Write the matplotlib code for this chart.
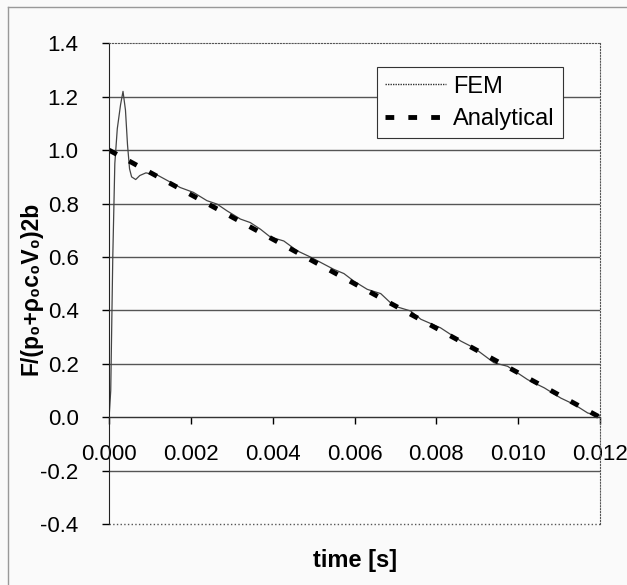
import numpy as np
import matplotlib.pyplot as plt
from matplotlib.lines import Line2D

plt.rcParams['font.family'] = ['Liberation Sans', 'DejaVu Sans']

# FEM response
fem_t = [0.0, 0.00004, 0.00009, 0.00014, 0.0002, 0.00028, 0.00034, 0.0004, 0.00045,
         0.0005, 0.00055, 0.00065, 0.00075, 0.0009, 0.00105, 0.0012, 0.0015, 0.00174,
         0.00206, 0.00239, 0.00264, 0.00288, 0.00321, 0.00345, 0.0037, 0.00394,
         0.00427, 0.0046, 0.00492, 0.00549, 0.00574, 0.00598, 0.00631, 0.00664,
         0.00696, 0.00737, 0.00762, 0.0081, 0.0086, 0.00892, 0.00941, 0.00974,
         0.01023, 0.01064, 0.01104, 0.01137, 0.0117, 0.01194, 0.012]
fem_f = [0.0, 0.1, 0.6, 0.95, 1.08, 1.17, 1.22, 1.15, 1.02,
         0.93, 0.9, 0.89, 0.905, 0.915, 0.91, 0.905, 0.88, 0.86,
         0.842, 0.811, 0.798, 0.773, 0.742, 0.729, 0.704, 0.675,
         0.66, 0.623, 0.60, 0.554, 0.538, 0.51, 0.479, 0.463,
         0.417, 0.398, 0.367, 0.335, 0.285, 0.26, 0.204, 0.191,
         0.141, 0.11, 0.072, 0.048, 0.016, 0.0075, 0.005]

# analytical solution (straight line between end points)
ana_t = [0.0, 0.012]
ana_f = [1.0, 0.0]

x_ticks = [0.0, 0.002, 0.004, 0.006, 0.008, 0.010, 0.012]
y_ticks = [-0.4, -0.2, 0.0, 0.2, 0.4, 0.6, 0.8, 1.0, 1.2, 1.4]

fig = plt.figure(figsize=(6.27, 5.85), dpi=100)
fig.patch.set_facecolor('#fafafa')
ax = fig.add_axes([0.174, 0.104, 0.783, 0.822])
ax.set_facecolor('#fcfcfc')

ax.plot(fem_t, fem_f, color='#444444', linewidth=0.9)
ax.plot(ana_t, ana_f, color='black', linewidth=3.5, linestyle=(0, (1.8, 2.9)))

ax.set_xlim(0.0, 0.012)
ax.set_ylim(-0.4, 1.4)
ax.set_xticks(x_ticks)
ax.set_yticks(y_ticks)
ax.set_xticklabels([f'{v:.3f}' for v in x_ticks])
ax.set_yticklabels([f'{v:.1f}' for v in y_ticks])
ax.tick_params(axis='both', labelsize=16, direction='out', length=5, width=1)
ax.tick_params(axis='y', pad=17)
ax.tick_params(axis='x', pad=14)

ax.yaxis.grid(True, color='#555555', linewidth=1.0)
ax.set_axisbelow(True)
gl = ax.yaxis.get_gridlines()
gl[0].set_visible(False)
gl[-1].set_visible(False)

ax.spines['bottom'].set_position(('data', 0))
ax.spines['bottom'].set_color('#333333')
ax.spines['left'].set_color('#222222')
for s in ['top', 'right']:
    ax.spines[s].set_linestyle(':')
    ax.spines[s].set_color('#555555')
ax.add_line(Line2D([0, 1], [0, 0], transform=ax.transAxes, linestyle=':',
                   color='#555555', linewidth=1.0, clip_on=False))

ax.set_xlabel('time [s]', fontsize=17, fontweight='bold')
ax.xaxis.set_label_coords(0.5, -0.052)
ax.set_ylabel('F/(p\u2080+\u03c1\u2080c\u2080V\u2080)2b', fontsize=16.5, fontweight='bold')
ax.yaxis.set_label_coords(-0.136, 0.49)

handles = [Line2D([], [], color='#333333', linewidth=1.0, linestyle=(0, (1, 0.8))),
           Line2D([], [], color='black', linewidth=3.5, linestyle=(0, (1.8, 2.9)))]
leg = ax.legend(handles, ['FEM', 'Analytical'], loc='upper right',
                bbox_to_anchor=(0.925, 0.950), borderaxespad=0, fontsize=17,
                handlelength=2.6, handletextpad=0.3, borderpad=0.35,
                labelspacing=0.45, fancybox=False, framealpha=1.0,
                edgecolor='#333333', facecolor='#fcfcfc')
leg.get_frame().set_linewidth(0.8)

# outer chart-area border (top and left visible in the scan)
fig.add_artist(Line2D([0.012, 1.0], [0.988, 0.988], color='#999999', linewidth=1.0))
fig.add_artist(Line2D([0.012, 0.012], [0.0, 0.988], color='#999999', linewidth=1.0))

fig.savefig('out.png', dpi=100)
